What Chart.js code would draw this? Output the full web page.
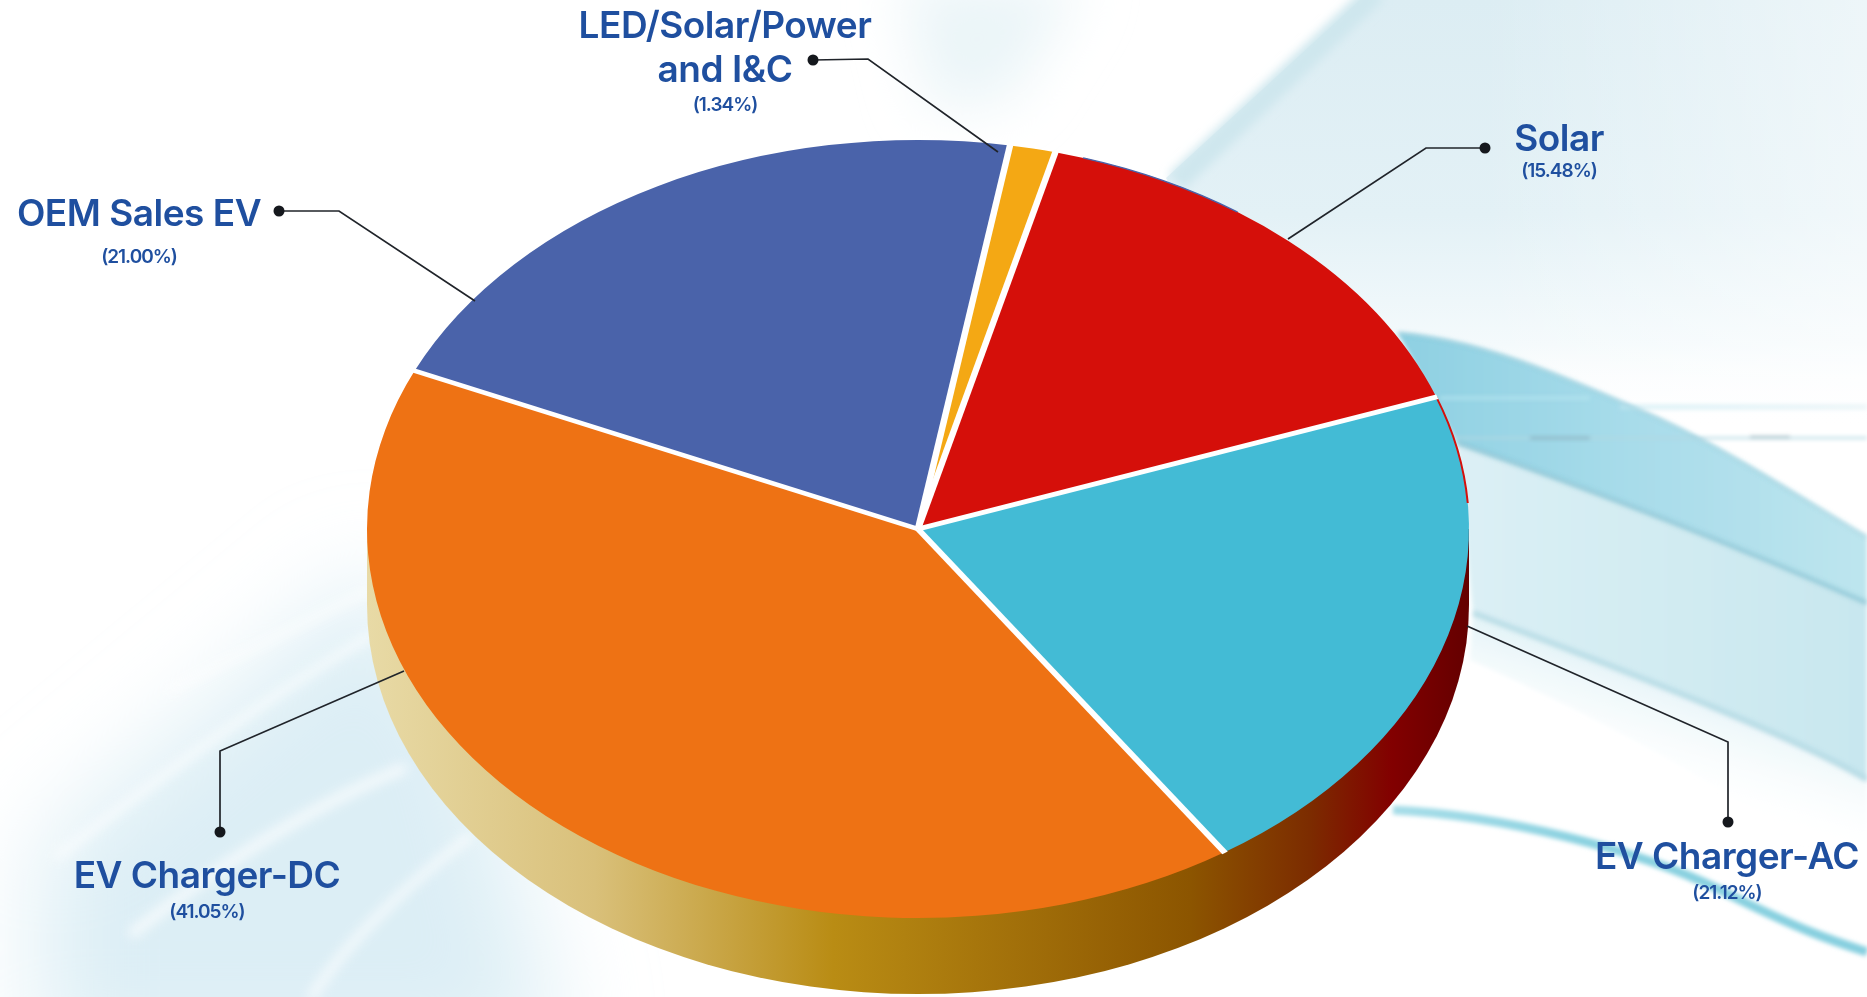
<!DOCTYPE html>
<html><head><meta charset="utf-8">
<style>
html,body{margin:0;padding:0;width:1867px;height:997px;overflow:hidden;background:#fff}
#bg{position:absolute;left:0;top:0}
#c{position:absolute;left:0;top:0}
</style>
<script src="https://cdn.jsdelivr.net/npm/chart.js@4"></script>
</head><body>
<svg id="bg" width="1867" height="997" viewBox="0 0 1867 997">
<defs>
<filter id="b2" x="-10%" y="-10%" width="120%" height="120%"><feGaussianBlur stdDeviation="2"/></filter>
<filter id="b5" x="-30%" y="-30%" width="160%" height="160%"><feGaussianBlur stdDeviation="5"/></filter>
<filter id="b6" x="-20%" y="-20%" width="140%" height="140%"><feGaussianBlur stdDeviation="6"/></filter>
<filter id="b28" x="-100%" y="-100%" width="300%" height="300%"><feGaussianBlur stdDeviation="28"/></filter>
<filter id="b50" x="-60%" y="-60%" width="220%" height="220%"><feGaussianBlur stdDeviation="50"/></filter>
<linearGradient id="gTop" x1="0" y1="0" x2="0" y2="430" gradientUnits="userSpaceOnUse">
<stop offset="0" stop-color="#dcedf3"/><stop offset=".5" stop-color="#e3f1f6"/><stop offset=".8" stop-color="#f4fafc"/><stop offset="1" stop-color="#ffffff" stop-opacity="0"/></linearGradient>
<linearGradient id="gRightFade" x1="1480" y1="0" x2="1867" y2="0" gradientUnits="userSpaceOnUse">
<stop offset="0" stop-color="#fff" stop-opacity="0"/><stop offset="1" stop-color="#fff" stop-opacity=".5"/></linearGradient>
<linearGradient id="gBand1" x1="1398" y1="0" x2="1867" y2="0" gradientUnits="userSpaceOnUse">
<stop offset="0" stop-color="#8ed0e2"/><stop offset=".5" stop-color="#a8dcea"/><stop offset="1" stop-color="#bde5ee"/></linearGradient>
<linearGradient id="gBand2" x1="1450" y1="0" x2="1867" y2="0" gradientUnits="userSpaceOnUse">
<stop offset="0" stop-color="#dcf0f5"/><stop offset="1" stop-color="#c8e7ef"/></linearGradient>
<linearGradient id="gBand3" x1="1600" y1="640" x2="1560" y2="770" gradientUnits="userSpaceOnUse">
<stop offset="0" stop-color="#dcf0f5"/><stop offset="1" stop-color="#ffffff" stop-opacity="0"/></linearGradient>
<linearGradient id="gLineA" x1="1450" y1="0" x2="1867" y2="0" gradientUnits="userSpaceOnUse">
<stop offset="0" stop-color="#b9e5ef"/><stop offset=".55" stop-color="#c8eaf2"/><stop offset="1" stop-color="#dfeff4"/></linearGradient>
<linearGradient id="gTail" x1="1393" y1="0" x2="1867" y2="0" gradientUnits="userSpaceOnUse">
<stop offset="0" stop-color="#a6dde8"/><stop offset=".4" stop-color="#8ad1e0"/><stop offset="1" stop-color="#86cfdf"/></linearGradient>
</defs>
<rect width="1867" height="997" fill="#fff"/>
<path d="M900 -20H1085L1010 100L930 110Z" fill="#ebf5f8" filter="url(#b28)"/>
<path d="M1166 178L1360 0H1867V430H1300Z" fill="url(#gTop)"/>
<rect x="1480" y="0" width="387" height="430" fill="url(#gRightFade)"/>
<path d="M1176 182L1376 -8" stroke="#cfe7ee" stroke-width="22" fill="none" filter="url(#b5)"/>
<path d="M40 850L380 570L480 720L560 1060H40Z" fill="#dcEEf5" filter="url(#b50)"/>
<g fill="none" stroke="#fff" stroke-linecap="round" filter="url(#b6)" opacity=".7">
<path d="M58 856C130 800 260 700 370 636" stroke-width="8"/>
<path d="M134 932C200 880 300 810 402 769" stroke-width="11"/>
<path d="M312 997C340 950 400 890 469 837" stroke-width="9"/>
<path d="M170 690C250 650 310 620 370 590" stroke-width="7"/>
</g>
<g filter="url(#b2)">
<path d="M1473 613C1650 680 1800 740 1867 780V900C1780 820 1650 740 1470 660Z" fill="url(#gBand3)"/>
<path d="M1457 443C1650 510 1780 565 1867 603V780C1800 740 1650 680 1473 613Z" fill="url(#gBand2)"/>
<path d="M1398 333C1480 340 1560 375 1640 410S1780 485 1867 537V603C1780 565 1650 510 1457 443Z" fill="url(#gBand1)"/>
</g>
<g fill="none" filter="url(#b2)">
<path d="M1620 407H1867" stroke="url(#gLineA)" stroke-width="5" opacity=".6"/>
<path d="M1440 398H1590" stroke="#b7e5ef" stroke-width="2.5"/>
<path d="M1450 438H1867" stroke="#b2d8e2" stroke-width="2"/>
<path d="M1530 438H1590M1750 437H1790" stroke="#6f8f9c" stroke-width="1.8" opacity=".6"/>
<path d="M1398 333C1480 340 1560 375 1640 410S1780 485 1867 537" stroke="#6fb8cd" stroke-width="2.5" opacity=".55"/>
<path d="M1457 443C1650 510 1780 565 1867 603" stroke="#6db3c8" stroke-width="5" opacity=".5"/>
<path d="M1473 613C1650 680 1800 740 1867 780" stroke="#9acbd9" stroke-width="6" opacity=".5"/>
<path d="M1393 810C1500 815 1640 850 1720 890S1830 940 1867 952" stroke="url(#gTail)" stroke-width="9"/>
</g>
</svg>
<canvas id="c" width="1867" height="997"></canvas>
<script>
const categories = ["OEM Sales EV", "LED/Solar/Power and I&C", "Solar", "EV Charger-AC", "EV Charger-DC"];
const shares = [21.00, 1.34, 15.48, 21.12, 41.05];
const sliceColors = ["#4a63aa", "#f4a814", "#d50f0a", "#43bbd5", "#ee7214"];
const labelLines = [["OEM Sales EV"], ["LED/Solar/Power", "and I&C"], ["Solar"], ["EV Charger-AC"], ["EV Charger-DC"]];
const percentLabels = ["(21.00%)", "(1.34%)", "(15.48%)", "(21.12%)", "(41.05%)"];
const labelX = [139, 725, 1559, 1727, 207];
const labelY = [[215], [27, 71], [140], [858], [877]];
const percentY = [257, 105, 171, 893, 912];
const leaders = [
  [[279,211],[339,211],[475,301]],
  [[813,60],[868,59],[998,152]],
  [[1485,148],[1426,148],[1288,239]],
  [[1728,822],[1728,742],[1467,626]],
  [[220,832],[220,751],[404,671]]
];
const squash = 389/551, depth = 76;
const deg = Math.PI / 180;

const pie3d = {
  id: 'pie3d',
  beforeDatasetsDraw(chart) {
    const a = chart.getDatasetMeta(0).data[0], ctx = chart.ctx;
    const rx = a.outerRadius, ry = rx * squash;
    const g = ctx.createLinearGradient(a.x - rx, 0, a.x + rx, 0);
    [[0,'#e8daa6'],[.207,'#d9c07a'],[.423,'#b98c14'],[.747,'#8c5500'],[.855,'#7c2c00'],[.93,'#820000'],[1,'#640000']]
      .forEach(s => g.addColorStop(s[0], s[1]));
    ctx.save();
    ctx.fillStyle = g;
    ctx.beginPath();
    ctx.moveTo(a.x - rx, a.y);
    ctx.lineTo(a.x - rx, a.y + depth);
    ctx.ellipse(a.x, a.y + depth, rx, ry, 0, Math.PI, 0, true);
    ctx.lineTo(a.x + rx, a.y);
    ctx.closePath();
    ctx.fill();
    ctx.restore();
    ctx.save();
    ctx.translate(a.x, a.y); ctx.scale(1, squash); ctx.translate(-a.x, -a.y);
  },
  afterDatasetsDraw(chart) {
    const arcs = chart.getDatasetMeta(0).data, ctx = chart.ctx, c = arcs[0], R = c.outerRadius;
    ctx.lineWidth = 2;
    ctx.strokeStyle = sliceColors[0];
    ctx.beginPath();
    ctx.arc(c.x, c.y, R, arcs[2].startAngle + 3 * deg, arcs[2].startAngle + 21 * deg);
    ctx.stroke();
    ctx.strokeStyle = sliceColors[2];
    ctx.beginPath();
    ctx.arc(c.x, c.y, R, arcs[3].startAngle, arcs[3].startAngle + 16 * deg);
    ctx.stroke();
    ctx.lineCap = 'butt';
    ctx.strokeStyle = '#ffffff';
    ctx.lineWidth = 6.5;
    arcs.forEach(a => {
      ctx.beginPath();
      ctx.moveTo(a.x, a.y);
      ctx.lineTo(a.x + Math.cos(a.startAngle) * (R + 1), a.y + Math.sin(a.startAngle) * (R + 1));
      ctx.stroke();
    });
    ctx.restore();
    ctx.save();
    ctx.strokeStyle = '#20242a';
    ctx.fillStyle = '#15181d';
    ctx.lineWidth = 1.7;
    leaders.forEach(p => {
      ctx.beginPath();
      p.forEach((q, i) => i ? ctx.lineTo(q[0], q[1]) : ctx.moveTo(q[0], q[1]));
      ctx.stroke();
      ctx.beginPath();
      ctx.arc(p[0][0], p[0][1], 5.5, 0, Math.PI * 2);
      ctx.fill();
    });
    ctx.fillStyle = '#1f4f9f';
    ctx.textAlign = 'center';
    ctx.textBaseline = 'middle';
    labelLines.forEach((lines, i) => {
      ctx.font = '600 37px Inter';
      ctx.letterSpacing = '-0.5px';
      lines.forEach((t, j) => ctx.fillText(t, labelX[i], labelY[i][j]));
      ctx.font = '600 19px Inter';
      ctx.letterSpacing = '-1px';
      ctx.fillText(percentLabels[i], labelX[i], percentY[i]);
    });
    ctx.restore();
  }
};

new Chart(document.getElementById('c'), {
  type: 'pie',
  data: {
    labels: categories,
    datasets: [{ data: shares, backgroundColor: sliceColors, borderWidth: 0, clip: false }]
  },
  options: {
    responsive: false,
    animation: false,
    rotation: -66,
    radius: 551,
    layout: { padding: { right: 31, top: 61 } },
    plugins: { legend: { display: false }, tooltip: { enabled: false }, title: { display: false } }
  },
  plugins: [pie3d]
});
</script>
</body></html>
